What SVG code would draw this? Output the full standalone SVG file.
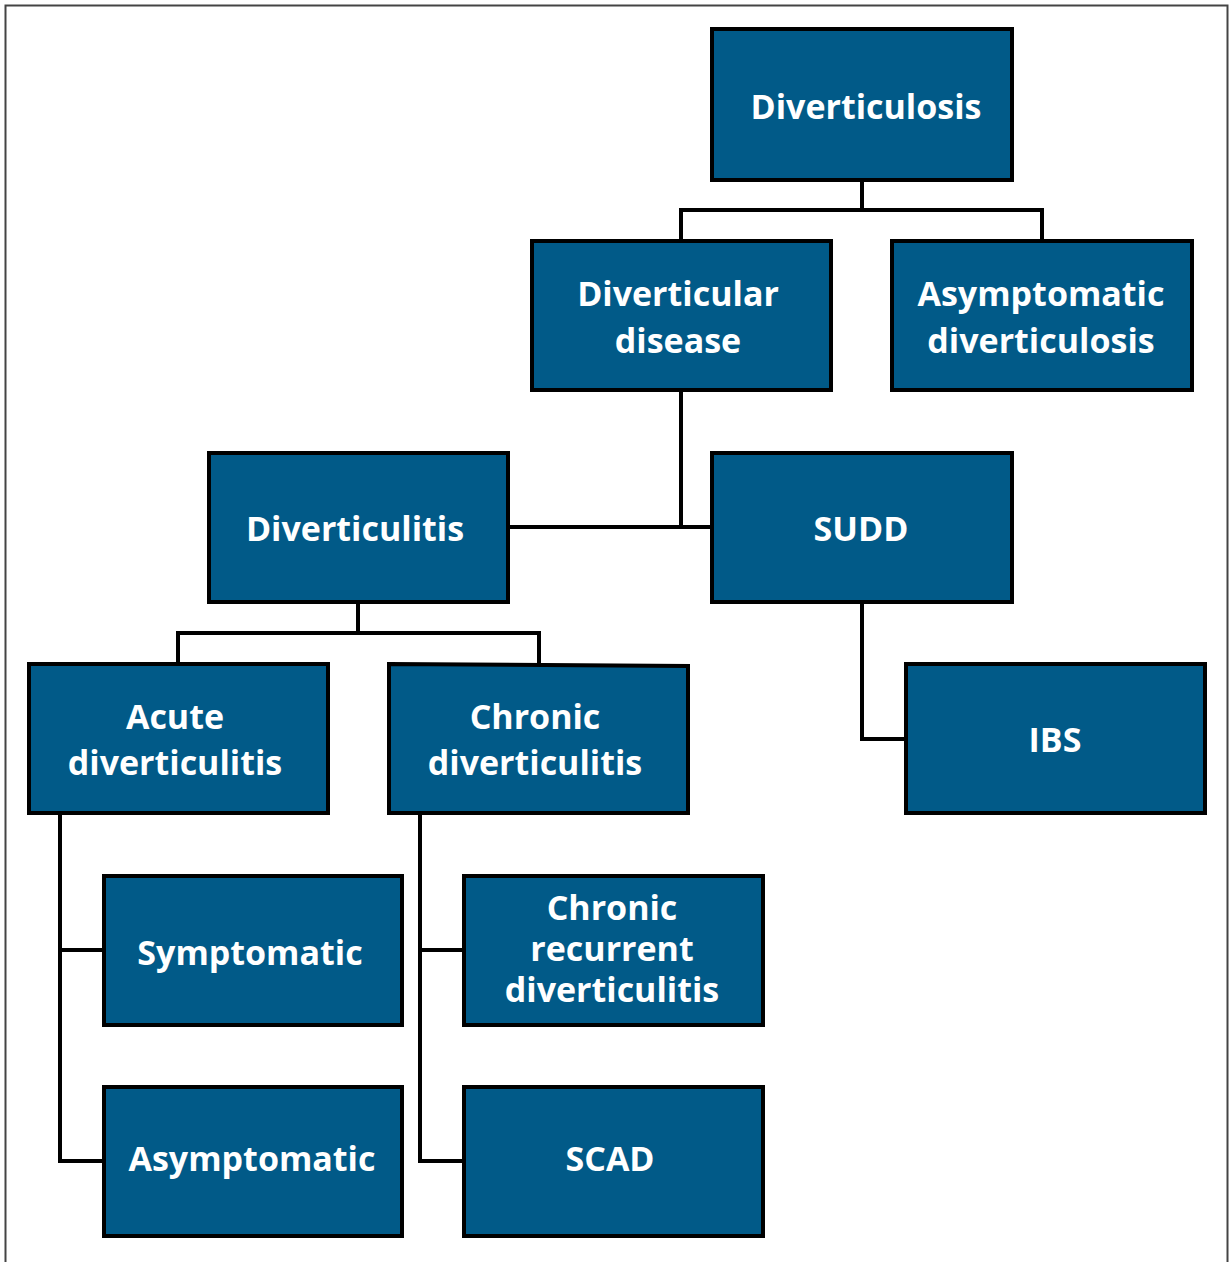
<svg xmlns="http://www.w3.org/2000/svg" width="1229" height="1262" viewBox="0 0 1229 1262">
<style>
.box{fill:#015A88;stroke:#000;stroke-width:4}
.lbl{fill:#fff;font-family:"Open Sans","Noto Sans","Liberation Sans",sans-serif;font-weight:700;font-size:34px;text-anchor:middle}
.con{fill:none;stroke:#000;stroke-width:4;stroke-linejoin:miter;stroke-linecap:square}
</style>
<rect x="0" y="0" width="1229" height="1262" fill="#fff"/>
<rect x="5.5" y="5.5" width="1222" height="1280" fill="none" stroke="#444" stroke-width="2"/>
<g id="connectors">
<path class="con" d="M862 180V210M681 241V210H1042V241"/>
<path class="con" d="M681 390V527M508 527H712"/>
<path class="con" d="M358 602V633M178 664V633H539V664"/>
<path class="con" d="M862 602V739H906"/>
<path class="con" d="M60 813V1161H104M60 950H104"/>
<path class="con" d="M420 813V1161H464M420 950H464"/>
</g>
<g id="n-diverticulosis"><rect class="box" x="712" y="29" width="300" height="151"/><text class="lbl" x="866" y="119">Diverticulosis</text></g>
<g id="n-diverticular-disease"><rect class="box" x="532" y="241" width="299" height="149"/><text class="lbl" x="678" y="306">Diverticular</text><text class="lbl" x="678" y="353">disease</text></g>
<g id="n-asymptomatic-diverticulosis"><rect class="box" x="892" y="241" width="300" height="149"/><text class="lbl" x="1041" y="306">Asymptomatic</text><text class="lbl" x="1041" y="353">diverticulosis</text></g>
<g id="n-diverticulitis"><rect class="box" x="209" y="453" width="299" height="149"/><text class="lbl" x="355" y="541">Diverticulitis</text></g>
<g id="n-sudd"><rect class="box" x="712" y="453" width="300" height="149"/><text class="lbl" x="861" y="541">SUDD</text></g>
<g id="n-acute"><rect class="box" x="29" y="664" width="299" height="149"/><text class="lbl" x="175" y="729">Acute</text><text class="lbl" x="175" y="775">diverticulitis</text></g>
<g id="n-chronic"><polygon class="box" points="389,664 688,666 688,813 389,813"/><text class="lbl" x="535" y="729">Chronic</text><text class="lbl" x="535" y="775">diverticulitis</text></g>
<g id="n-ibs"><rect class="box" x="906" y="664" width="299" height="149"/><text class="lbl" x="1055" y="752">IBS</text></g>
<g id="n-symptomatic"><rect class="box" x="104" y="876" width="298" height="149"/><text class="lbl" x="250" y="965">Symptomatic</text></g>
<g id="n-chronic-recurrent"><rect class="box" x="464" y="876" width="299" height="149"/><text class="lbl" x="612" y="920">Chronic</text><text class="lbl" x="612" y="961">recurrent</text><text class="lbl" x="612" y="1002">diverticulitis</text></g>
<g id="n-asymptomatic"><rect class="box" x="104" y="1087" width="298" height="149"/><text class="lbl" x="252" y="1171">Asymptomatic</text></g>
<g id="n-scad"><rect class="box" x="464" y="1087" width="299" height="149"/><text class="lbl" x="610" y="1171">SCAD</text></g>
</svg>
